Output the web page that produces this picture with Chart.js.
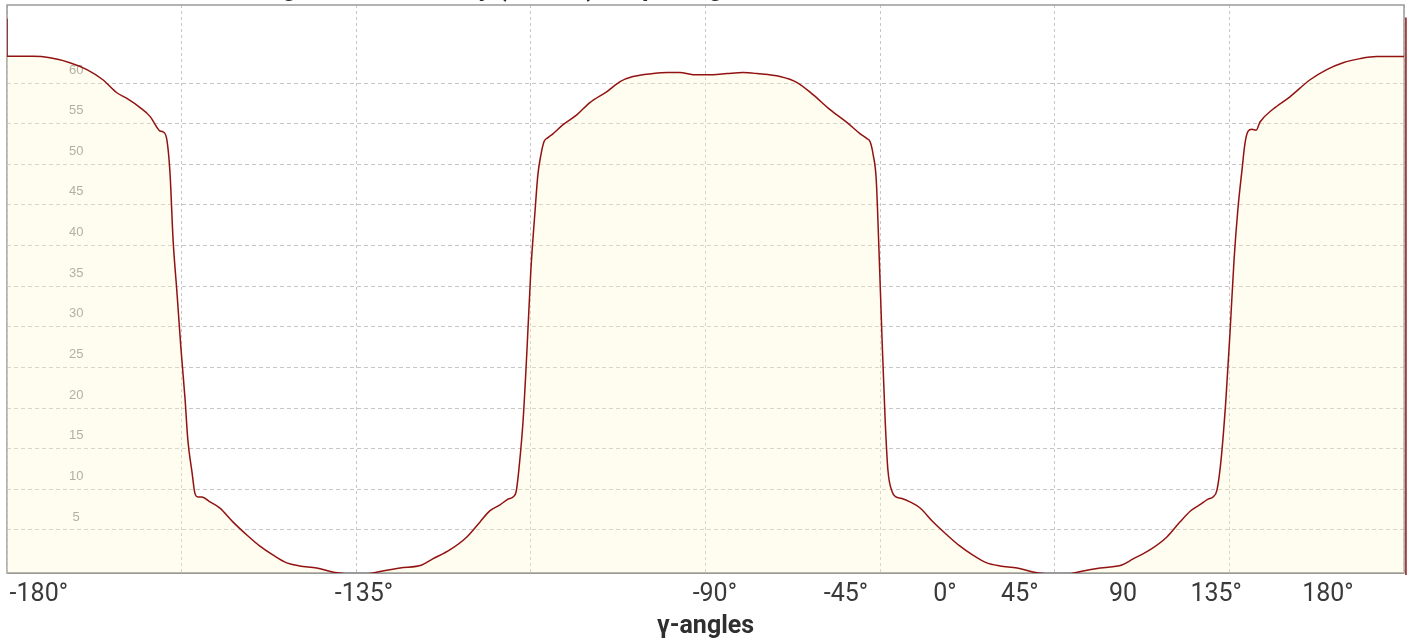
<!DOCTYPE html>
<html>
<head>
<meta charset="utf-8">
<script src="https://cdn.jsdelivr.net/npm/chart.js@4.4.1/dist/chart.umd.min.js"></script>
<style>
  html, body { margin: 0; padding: 0; background: #ffffff; overflow: hidden; }
  #wrap { position: relative; width: 1412px; height: 642px; overflow: hidden; }
  #c { position: absolute; left: 0; top: -27px; }
</style>
</head>
<body>
<div id="wrap"><canvas id="c" width="1412" height="669"></canvas></div>
<script>
// ---- data ----
const chartTitle = 'Average torsion density (counts) for pairing of DNA strands across all the structures';
const axisTitle = 'γ-angles';

const angles = [
  -180, -180, -173.3, -168.9, -163.8, -159.4, -155.3, -151.7, -149.1, -145.7, -143.1,
  -141.3, -140.6, -139.8, -138.8, -138.0, -137.2, -136.2, -135.2, -134.1, -133.4,
  -132.3, -131.6, -130.8, -129.8, -127.7, -125.2, -121.8, -118.2, -114.9, -111.5,
  -107.9, -104.6, -100.2, -96.1, -92.5, -89.9, -87.3, -83.2, -78.7, -73.1,
  -70.3, -65.9, -61.5, -58.1, -55.6, -52.95, -50.9, -49.6, -48.8, -48.1,
  -47.0, -46.0, -45.0, -43.9, -43.2, -42.4, -41.6, -40.6, -39.55, -36.7,
  -33.1, -29.8, -25.4, -22.0, -18.7, -13.5, -9.9, -6.6, -3.2, 1.9,
  5.5, 9.7, 13.3, 19.2, 23.6, 27.7, 32.1, 36.5, 39.8, 41.6,
  42.4, 43.2, 44.0, 44.7, 45.5, 46.3, 47.0, 48.1, 49.1, 50.4,
  52.7, 55.3, 58.6, 62.2, 65.6, 68.9, 72.5, 75.9, 80.3, 84.4,
  88.0, 91.4, 93.9, 97.3, 101.7, 107.3, 110.2, 114.5, 118.9, 122.3,
  124.9, 127.4, 129.5, 130.8, 131.8, 132.85, 134.1, 135.2, 136.2, 137.2,
  138.3, 139.0, 139.8, 140.8, 141.9, 142.9, 146.3, 150.6, 155.8, 160.1,
  164.3, 168.7, 173.0, 180
];
const energies = [
  67.9, 63.28, 63.28, 63.1, 62.5, 61.65, 60.4, 58.8, 58.1, 56.97, 55.86,
  54.5, 54.1, 54.0, 53.0, 48.97, 40.7, 34.2, 27.5, 21.0, 16.08,
  12.02, 9.56, 9.06, 9.06, 8.45, 7.71, 5.99, 4.38, 3.03, 1.92,
  0.94, 0.57, 0.32, -0.17, -0.42, -0.54, -0.42, -0.05, 0.32, 0.69,
  1.43, 2.54, 4.14, 5.99, 7.34, 8.08, 8.8, 9.06, 9.7, 12.4,
  18.5, 27.2, 37.0, 44.4, 48.7, 51.2, 52.8, 53.28, 53.65, 54.88,
  56.11, 57.59, 58.95, 60.18, 60.79, 61.16, 61.29, 61.29, 61.03, 61.03,
  61.16, 61.29, 61.16, 60.79, 60.05, 58.57, 56.72, 55.12, 53.77, 53.16,
  52.8, 51.2, 48.1, 39.5, 28.4, 18.5, 12.4, 9.7, 9.06, 8.9,
  8.45, 7.7, 6.0, 4.4, 3.0, 1.9, 0.94, 0.57, 0.32, -0.17,
  -0.42, -0.54, -0.42, -0.05, 0.32, 0.69, 1.43, 2.54, 4.14, 6.0,
  7.3, 8.1, 8.8, 9.06, 9.9, 13.6, 21.0, 29.6, 38.2, 44.5,
  49.5, 52.5, 54.04, 54.3, 54.2, 55.2, 56.8, 58.3, 60.4, 61.65,
  62.5, 63.0, 63.25, 63.25
];
// vertical edge stroke seen at the right border
const edgeAngles = [180.5, 180.5];
const edgeEnergies = [68.05, -0.55];

const tickLabels = ['-180°', '-135°', '-90°', '-45°', '0°', '45°', '90', '135°', '180°'];
const tickLabelAngles = [-171.8, -88.0, 2.4, 36.2, 61.7, 81.0, 107.6, 131.6, 160.4];
const yTickValues = [5, 10, 15, 20, 25, 30, 35, 40, 45, 50, 55, 60];

// ---- chart ----
const LINE = '#921212';
const GRID = '#c6c6c6';

const frame = {
  id: 'frame',
  beforeDatasetsDraw(chart) {
    const {ctx, chartArea: a} = chart;
    ctx.save();
    ctx.strokeStyle = '#9a9a9a';
    ctx.lineWidth = 1.5;
    ctx.strokeRect(a.left, a.top, a.right - a.left, a.bottom - a.top);
    ctx.lineWidth = 2;
    ctx.beginPath();
    ctx.moveTo(a.left, a.bottom);
    ctx.lineTo(a.right, a.bottom);
    ctx.stroke();
    ctx.restore();
  }
};

new Chart(document.getElementById('c'), {
  type: 'line',
  data: {
    datasets: [
      {
        data: angles.map((a, i) => ({x: a, y: energies[i]})),
        borderColor: LINE,
        borderWidth: 1.5,
        backgroundColor: 'rgba(255, 249, 205, 0.32)',
        fill: 'start',
        pointRadius: 0,
        cubicInterpolationMode: 'monotone',
        xAxisID: 'x',
        yAxisID: 'y'
      },
      {
        data: edgeAngles.map((a, i) => ({x: a, y: edgeEnergies[i]})),
        borderColor: LINE,
        borderWidth: 1.5,
        fill: false,
        pointRadius: 0,
        tension: 0,
        clip: false,
        xAxisID: 'x',
        yAxisID: 'y'
      }
    ]
  },
  options: {
    responsive: false,
    animation: false,
    layout: { padding: { top: 0.8, left: 7, right: 8, bottom: 0 } },
    plugins: {
      legend: { display: false },
      tooltip: { enabled: false },
      title: {
        display: true,
        text: chartTitle,
        color: '#2b2b2b',
        font: { family: 'Roboto', size: 26, weight: 'bold' },
        padding: { top: 0, bottom: 0 }
      }
    },
    scales: {
      x: {
        type: 'linear',
        position: 'bottom',
        min: -180,
        max: 180,
        ticks: { display: false, stepSize: 45 },
        grid: { color: GRID, lineWidth: 1, drawTicks: false },
        border: { display: false, dash: [3, 3] },
        afterFit: s => { s.height = 0; s.paddingLeft = 0; s.paddingRight = 0; }
      },
      xl: {
        type: 'linear',
        position: 'bottom',
        min: -180,
        max: 180,
        grid: { display: false, drawTicks: false },
        border: { display: false },
        afterBuildTicks: s => { s.ticks = tickLabelAngles.map(v => ({value: v})); },
        ticks: {
          autoSkip: false,
          maxRotation: 0,
          minRotation: 0,
          padding: 7,
          color: '#3a3a3a',
          font: { family: 'Roboto', size: 25 },
          callback: (v, i) => tickLabels[i]
        },
        title: {
          display: true,
          text: axisTitle,
          color: '#2f2f2f',
          font: { family: 'Roboto', size: 25, weight: 'bold' },
          padding: { top: 0, bottom: 0 }
        },
        afterFit: s => { s.height = 69; s.paddingLeft = 0; s.paddingRight = 0; }
      },
      y: {
        type: 'linear',
        position: 'left',
        min: -0.3,
        max: 69.6,
        afterBuildTicks: s => { s.ticks = yTickValues.map(v => ({value: v})); },
        ticks: {
          mirror: true,
          crossAlign: 'center',
          padding: 62,
          labelOffset: -13,
          color: '#8e8e8e',
          font: { family: 'Liberation Sans', size: 13 },
          callback: v => String(v)
        },
        grid: { color: GRID, lineWidth: 1, drawTicks: false },
        border: { display: false, dash: [4, 3] },
        afterFit: s => { s.width = 0; s.paddingTop = 0; s.paddingBottom = 0; }
      }
    }
  },
  plugins: [frame]
});
</script>
</body>
</html>
